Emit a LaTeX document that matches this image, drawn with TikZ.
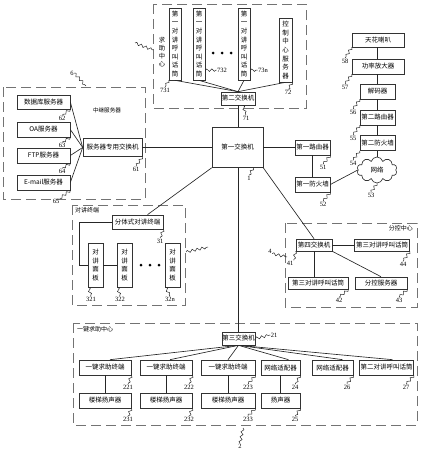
\documentclass[tikz,border=0pt]{standalone}
\usepackage{fontspec}
\setmainfont{Liberation Serif}
\newfontfamily\cjk{Noto Sans CJK SC}
\usetikzlibrary{shapes.symbols,decorations.pathmorphing,calc}
\begin{document}
\begin{tikzpicture}[x=1pt,y=-1pt,
  box/.style={draw=black!80, line width=0.65pt, inner sep=0pt, fill=white, font=\cjk\fontsize{6.5}{7}\selectfont},
  vbox/.style={box, align=center, font=\cjk\fontsize{6.5}{8.6}\selectfont},
  ln/.style={draw=black!85, line width=0.65pt},
  grp/.style={draw=black!55, line width=0.6pt, dash pattern=on 10pt off 5pt},
  grpcap/.style={inner sep=0pt, font=\cjk\fontsize{6}{7}\selectfont},
  num/.style={inner sep=0.3pt, font=\fontsize{6.5}{7}\selectfont},
  sq/.style={draw=black!85, line width=0.5pt, decorate, decoration={snake, amplitude=1.3pt, segment length=5pt}},
  bigdot/.style={circle, fill=black, inner sep=0pt, minimum size=3pt}
]
\useasboundingbox (0,0) rectangle (421,450);

% ---------- group 7: help centre ----------
\draw[grp] (153,4) rectangle (306,108);
\node[grpcap, align=center, font=\cjk\fontsize{6.3}{8}\selectfont] (c7) at (162,52) {求\\助\\中\\心};
\node[vbox, minimum width=12pt, minimum height=72pt] (p731) at (175,44) {第\\一\\对\\讲\\呼\\叫\\话\\筒};
\node[vbox, minimum width=12pt, minimum height=72pt] (p732) at (199,44) {第\\一\\对\\讲\\呼\\叫\\话\\筒};
\node[vbox, minimum width=12pt, minimum height=72pt] (p73n) at (244,44) {第\\一\\对\\讲\\呼\\叫\\话\\筒};
\node[vbox, minimum width=13pt, minimum height=64pt] (ctl) at (285.5,50) {控\\制\\中\\心\\服\\务\\器};
\node[bigdot] (d1) at (213,53) {};
\node[bigdot] (d2) at (222,53) {};
\node[bigdot] (d3) at (231,53) {};
\node[box, minimum width=34pt, minimum height=13pt] (sw2) at (238,98.5) {第二交换机};
\draw[ln] (p731.south) -- (sw2.north);
\draw[ln] (p732.south) -- (sw2.north);
\draw[ln] (p73n.south) -- (sw2.north);
\draw[ln] (ctl.south) -- (sw2.north);
\node[num] (l731) at (165,90) {731};
\node[num] (l732) at (222,70) {732};
\node[num] (l73n) at (263,70) {73n};
\node[num] (l72) at (288,92) {72};
\node[num] (l71) at (246,118) {71};
\draw[sq] (p731.south west) -- (l731.north);
\draw[sq] ($(p732.south east)+(0,-10)$) -- (l732.west);
\draw[sq] ($(p73n.south east)+(0,-10)$) -- (l73n.west);
\draw[sq] (ctl.south east) -- (l72.north);
\draw[sq] ($(sw2.south)+(5,0)$) -- (l71.north);
\coordinate (q7a) at (135,43);
\coordinate (q7b) at (153,50);
\draw[sq] (q7a) -- (q7b);

% ---------- first switch ----------
\node[box, minimum width=51pt, minimum height=40pt] (sw1) at (237.5,147.5) {第一交换机};
\draw[ln] (sw2.south) -- (sw1.north -| sw2.south);
\node[num] (l1) at (249,178) {1};
\draw[sq] ($(sw1.south east)+(-10,0)$) -- (l1.north);

% ---------- network chain ----------
\node[box, minimum width=35pt, minimum height=15pt] (r1) at (312.5,147.5) {第一路由器};
\node[box, minimum width=35pt, minimum height=15pt] (fw1) at (312.5,184.5) {第一防火墙};
\node[cloud, draw=black!80, line width=0.65pt, cloud puffs=10, aspect=1.6, inner sep=0pt, minimum width=40pt, minimum height=26pt, font=\cjk\fontsize{6.5}{7}\selectfont] (net) at (377,170) {网络};
\node[box, minimum width=52pt, minimum height=14pt] (spk) at (378,40) {天花喇叭};
\node[box, minimum width=52pt, minimum height=15pt] (amp) at (378,66.5) {功率放大器};
\node[box, minimum width=35pt, minimum height=15pt] (dec) at (377.5,91.5) {解码器};
\node[box, minimum width=35pt, minimum height=15pt] (r2) at (377.5,117.5) {第二路由器};
\node[box, minimum width=35pt, minimum height=15pt] (fw2) at (377.5,143) {第二防火墙};
\draw[ln] (sw1.east |- r1.west) -- (r1.west);
\draw[ln] (r1.south) -- (fw1.north);
\draw[ln] (fw1.east) -- (net.west);
\draw[ln] (net.north -| fw2.south) -- (fw2.south);
\draw[ln] (fw2.north) -- (r2.south);
\draw[ln] (r2.north) -- (dec.south);
\draw[ln] (dec.north) -- (amp.south -| dec.north);
\draw[ln] (amp.north -| dec.north) -- (spk.south -| dec.north);
\node[num] (l51) at (323,167) {51};
\node[num] (l52) at (323,204) {52};
\node[num] (l53) at (371,195) {53};
\node[num] (l58) at (345,61) {58};
\node[num] (l57) at (345,87) {57};
\node[num] (l56) at (353,112) {56};
\node[num] (l55) at (353,138) {55};
\node[num] (l54) at (353,163) {54};
\draw[sq] (r1.south east) -- (l51.north);
\draw[sq] (fw1.south east) -- (l52.north);
\draw[sq] (net.south) -- (l53.north);
\draw[sq] (spk.south west) -- (l58.north);
\draw[sq] (amp.south west) -- (l57.north);
\draw[sq] (dec.south west) -- (l56.north);
\draw[sq] (r2.south west) -- (l55.north);
\draw[sq] (fw2.south west) -- (l54.north);

% ---------- group 6: relay servers ----------
\draw[grp] (3,87) rectangle (145,199);
\node[grpcap, font=\cjk\fontsize{5.6}{7}\selectfont] (c6) at (107,110) {中继服务器};
\node[box, minimum width=53pt, minimum height=14pt] (db) at (43.5,102) {数据库服务器};
\node[box, minimum width=53pt, minimum height=15pt] (oa) at (43.5,129.5) {OA服务器};
\node[box, minimum width=53pt, minimum height=15pt] (ftp) at (43.5,155.5) {FTP服务器};
\node[box, minimum width=53pt, minimum height=15pt] (mail) at (43.5,182.5) {E-mail服务器};
\node[box, minimum width=59pt, minimum height=18pt] (ssw) at (112.5,147.5) {服务器专用交换机};
\draw[ln] (db.east) -- (ssw.west);
\draw[ln] (oa.east) -- (ssw.west);
\draw[ln] (ftp.east) -- (ssw.west);
\draw[ln] (mail.east) -- (ssw.west);
\draw[ln] (ssw.east) -- (sw1.west);
\node[num] (l6) at (72,73) {6};
\coordinate (q6) at (86,86);
\draw[sq] (l6.east) -- (q6);
\node[num] (l62) at (62,118) {62};
\node[num] (l63) at (62,145) {63};
\node[num] (l64) at (62,171) {64};
\node[num] (l65) at (56,201) {65};
\node[num] (l61) at (136,169) {61};
\draw[sq] (db.south east) -- (l62.north);
\draw[sq] (oa.south east) -- (l63.north);
\draw[sq] (ftp.south east) -- (l64.north);
\draw[sq] (mail.south east) -- (l65.north east);
\draw[sq] (ssw.south east) -- (l61.north);

% ---------- group 3: intercom terminals ----------
\draw[grp] (72,205) rectangle (185,305);
\node[grpcap, anchor=north west] (c3) at (75,207.5) {对讲终端};
\node[box, minimum width=51pt, minimum height=14pt] (split) at (137.5,222) {分体式对讲终端};
\node[vbox, minimum width=15pt, minimum height=44pt] (p321) at (95.5,265) {对\\讲\\面\\板};
\node[vbox, minimum width=15pt, minimum height=44pt] (p322) at (124.5,265) {对\\讲\\面\\板};
\node[vbox, minimum width=15pt, minimum height=44pt] (p32n) at (172.5,265) {对\\讲\\面\\板};
\node[bigdot] (d4) at (141,265) {};
\node[bigdot] (d5) at (150,265) {};
\node[bigdot] (d6) at (159,265) {};
\coordinate (k1) at (79,222);
\draw[ln] (split.west) -- (k1) |- (p321.west);
\draw[ln] (p321.east) -- (p322.west);
\draw[ln] (sw1.south west) -- ($(split.north)+(10,0)$);
\node[num] (l31) at (160,241) {31};
\node[num] (l321) at (91,299) {321};
\node[num] (l322) at (120,299) {322};
\node[num] (l32n) at (170,299) {32n};
\draw[sq] (split.south east) -- (l31.north);
\draw[sq] ($(p321.south west)+(1,0)$) -- (l321.north);
\draw[sq] ($(p322.south west)+(1,0)$) -- (l322.north);
\draw[sq] ($(p32n.south west)+(1,0)$) -- (l32n.north);
\coordinate (q3a) at (186,252);
\coordinate (q3b) at (208,247);
\draw[sq] (q3a) -- (q3b);

% ---------- group 4: sub control centre ----------
\draw[grp] (285,223) rectangle (417,307);
\node[grpcap, anchor=north east] (c4) at (413,225.5) {分控中心};
\node[box, minimum width=36pt, minimum height=12pt] (sw4) at (314,245) {第四交换机};
\node[box, minimum width=55pt, minimum height=12pt] (m44) at (382,245) {第三对讲呼叫话筒};
\node[box, minimum width=60pt, minimum height=12pt] (m42) at (318,283) {第三对讲呼叫话筒};
\node[box, minimum width=52pt, minimum height=12pt] (srv43) at (381,283) {分控服务器};
\draw[ln] (sw4.east) -- (m44.west);
\draw[ln] (sw4.south) -- (sw4.south |- m42.north);
\draw[ln] (sw4.south east) -- (srv43.north);
\draw[ln] (sw1.south east) -- (sw4.north);
\node[num] (l4) at (270,251) {4};
\coordinate (q4) at (287,257);
\draw[sq] (l4.south east) -- (q4);
\node[num] (l41) at (290,263) {41};
\node[num] (l44) at (403,264) {44};
\node[num] (l42) at (339,300) {42};
\node[num] (l43) at (399,300) {43};
\draw[sq] (sw4.south west) -- (l41.north east);
\draw[sq] (m44.south east) -- (l44.north);
\draw[sq] (m42.south east) -- (l42.north);
\draw[sq] (srv43.south east) -- (l43.north);

% ---------- group 2: one-key help centre ----------
\draw[grp] (73,323) rectangle (417,425);
\node[grpcap, anchor=north west] (c2) at (77,326) {一键求助中心};
\node[box, minimum width=33pt, minimum height=13pt] (sw3) at (238.5,338.5) {第三交换机};
\draw[ln] (sw1.south -| sw3.north) -- (sw3.north);
\node[box, minimum width=52pt, minimum height=15pt] (t221) at (105,367.5) {一键求助终端};
\node[box, minimum width=52pt, minimum height=15pt] (t222) at (166,367.5) {一键求助终端};
\node[box, minimum width=54pt, minimum height=15pt] (t223) at (228,367.5) {一键求助终端};
\node[box, minimum width=39pt, minimum height=15pt] (na24) at (280.5,367.5) {网络适配器};
\node[box, minimum width=41pt, minimum height=15pt] (na26) at (332.5,367.5) {网络适配器};
\node[box, minimum width=54pt, minimum height=15pt] (m27) at (386.5,367.5) {第二对讲呼叫话筒};
\node[box, minimum width=52pt, minimum height=15pt] (s231) at (105,400.5) {楼梯扬声器};
\node[box, minimum width=52pt, minimum height=15pt] (s232) at (166,400.5) {楼梯扬声器};
\node[box, minimum width=54pt, minimum height=15pt] (s233) at (228,400.5) {楼梯扬声器};
\node[box, minimum width=39pt, minimum height=15pt] (s25) at (280.5,400.5) {扬声器};
\draw[ln] (sw3.south) -- ($(t221.north)+(5,0)$);
\draw[ln] (sw3.south) -- ($(t222.north)+(4,0)$);
\draw[ln] (sw3.south) -- (t223.north);
\draw[ln] (sw3.south) -- ($(na24.north)+(8,0)$);
\draw[ln] (sw3.south) -- ($(na26.north)+(10,0)$);
\draw[ln] (sw3.south) -- ($(m27.north)+(6,0)$);
\draw[ln] (t221.south) -- (s231.north);
\draw[ln] (t222.south) -- (s232.north);
\draw[ln] (t223.south) -- (s233.north);
\draw[ln] (na24.south) -- (s25.north);
\node[num] (l21) at (274,335) {21};
\draw[sq] (sw3.east) -- (l21.west);
\node[num] (l221) at (128,387) {221};
\node[num] (l222) at (189,387) {222};
\node[num] (l223) at (248,387) {223};
\node[num] (l24) at (295,387) {24};
\node[num] (l26) at (347,387) {26};
\node[num] (l27) at (406,387) {27};
\node[num] (l231) at (128,419) {231};
\node[num] (l232) at (189,419) {232};
\node[num] (l233) at (248,419) {233};
\node[num] (l25) at (295,419) {25};
\draw[sq] (t221.south east) -- (l221.north);
\draw[sq] (t222.south east) -- (l222.north);
\draw[sq] (t223.south east) -- (l223.north);
\draw[sq] (na24.south east) -- (l24.north);
\draw[sq] (na26.south east) -- (l26.north);
\draw[sq] (m27.south east) -- (l27.north);
\draw[sq] (s231.south east) -- (l231.north);
\draw[sq] (s232.south east) -- (l232.north);
\draw[sq] (s233.south east) -- (l233.north);
\draw[sq] (s25.south east) -- (l25.north);
\node[num] (l2) at (240,446) {2};
\coordinate (q2) at (243,428);
\draw[sq] (q2) -- (l2.north);
\end{tikzpicture}
\end{document}
